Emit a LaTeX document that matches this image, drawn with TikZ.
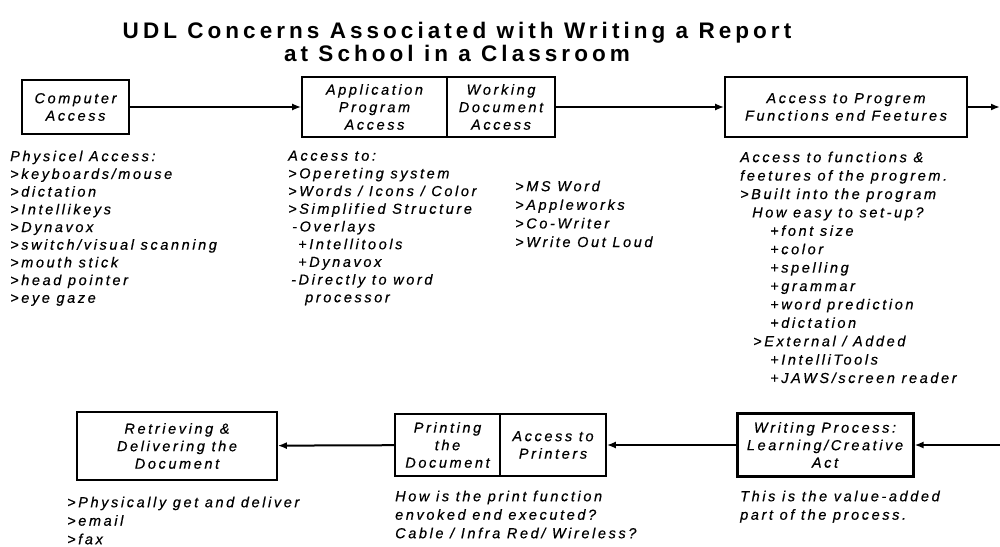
\documentclass[tikz,border=0pt]{standalone}
\usepackage{fontspec}
\setmainfont{Liberation Sans}
\newfontfamily\bodyf[LetterSpace=18,FakeBold=0.5]{Liberation Sans Italic}
\newfontfamily\titlef[LetterSpace=18]{Liberation Sans Bold}
\usetikzlibrary{arrows.meta}
\begin{document}
\begin{tikzpicture}[x=1pt,y=-1pt,
  box/.style={draw,line width=1.6pt,inner sep=0pt,align=center,
    font={\bodyf\fontsize{14.5}{17.5}\selectfont}},
  thickbox/.style={box,line width=3pt},
  arr/.style={line width=2pt,-{Latex[length=9pt,width=7pt]}},
  list/.style={anchor=north west,inner sep=0pt,align=left},
  lt/.style={font={\bodyf\fontsize{14.5}{#1}\selectfont}},
]
\useasboundingbox (0,0) rectangle (1000,546);
\fill[white] (0,0) rectangle (1000,546);

% title
\node[align=center,font={\titlef\fontsize{22.5}{22.5}\selectfont}] (title) at (457,42)
  {UDL Concerns Associated with Writing a Report\\at School in a Classroom};

% top row boxes
\node[box,minimum width=107pt,minimum height=54pt] (comp) at (75.5,107) {Computer\\Access};
\node[box,minimum width=145pt,minimum height=60pt] (app) at (374.5,107) {Application\\Program\\Access};
\node[box,minimum width=108pt,minimum height=60pt] (work) at (501,107) {Working\\Document\\Access};
\node[box,minimum width=242pt,minimum height=60pt] (prog) at (846,107) {Access to Progrem\\Functions end Feetures};
\coordinate (rightout) at (1000,107);

% bottom row boxes
\node[box,minimum width=200pt,minimum height=68pt] (ret) at (177,446) {Retrieving \&\\Delivering the\\Document};
\node[box,minimum width=105pt,minimum height=62pt] (prt) at (447.5,445) {Printing\\the\\Document};
\node[box,minimum width=106pt,minimum height=62pt] (ptr) at (553,445) {Access to\\Printers};
\node[thickbox,minimum width=176pt,minimum height=63pt] (writ) at (825,445) {Writing Process:\\Learning/Creative\\Act};
\coordinate (rightin) at (1000,445);

% connectors
\draw[arr] (comp) -- (app);
\draw[arr] (work) -- (prog);
\draw[arr] (prog) -- (rightout);
\draw[arr] (rightin) -- (writ);
\draw[arr] (writ) -- (ptr);
\draw[arr] (prt) -- (ret);

% lists
\node[list,lt=17.7] (c1) at (10,150.5) {Physicel Access:\\>keyboards/mouse\\>dictation\\>Intellikeys\\>Dynavox\\>switch/visual scanning\\>mouth stick\\>head pointer\\>eye gaze};
\node[list,lt=17.7] (c2) at (288,150.5) {Access to:\\>Opereting system\\>Words / Icons / Color\\>Simplified Structure\\\hspace*{4pt}-Overlays\\\hspace*{10pt}+Intellitools\\\hspace*{10pt}+Dynavox\\\hspace*{3pt}-Directly to word\\\hspace*{17pt}processor};
\node[list,lt=18.6] (c3) at (515,180.5) {>MS Word\\>Appleworks\\>Co-Writer\\>Write Out Loud};
\node[list,lt=18.4] (c4) at (740,151.5) {Access to functions \&\\feetures of the progrem.\\>Built into the program\\\hspace*{12pt}How easy to set-up?\\\hspace*{30pt}+font size\\\hspace*{30pt}+color\\\hspace*{30pt}+spelling\\\hspace*{30pt}+grammar\\\hspace*{30pt}+word prediction\\\hspace*{30pt}+dictation\\\hspace*{13pt}>External / Added\\\hspace*{30pt}+IntelliTools\\\hspace*{30pt}+JAWS/screen reader};
\node[list,lt=18.5] (b1) at (67,496.5) {>Physically get and deliver\\>email\\>fax};
\node[list,lt=18.5] (b2) at (395,490.5) {How is the print function\\envoked end executed?\\Cable / Infra Red/ Wireless?};
\node[list,lt=18.5] (b3) at (740,490.5) {This is the value-added\\part of the process.};
\end{tikzpicture}
\end{document}
